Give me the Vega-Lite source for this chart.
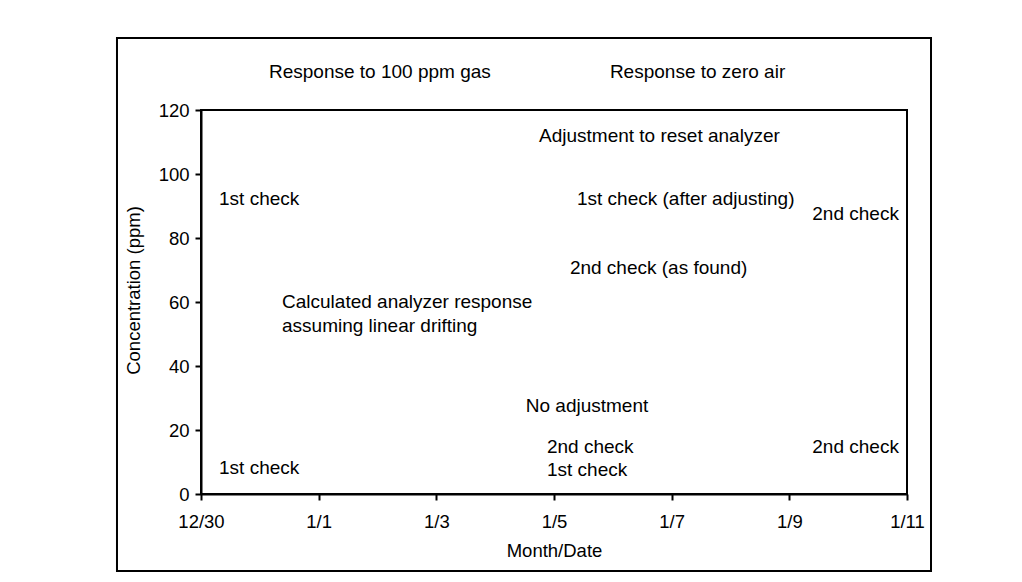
{
  "$schema": "https://vega.github.io/schema/vega-lite/v6.json",
  "width": 706,
  "height": 384,
  "autosize": {"type": "none"},
  "padding": {"left": 201, "top": 110, "right": 115, "bottom": 88},
  "background": "white",
  "config": {
    "font": "Liberation Sans",
    "view": {"stroke": "black", "strokeWidth": 2},
    "axis": {
      "domainColor": "black", "domainWidth": 2, "tickColor": "black", "tickWidth": 2, "tickSize": 6,
      "labelFont": "Liberation Sans", "labelFontSize": 18.5, "labelColor": "black",
      "titleFont": "Liberation Sans", "titleFontSize": 18.5, "titleFontWeight": "normal", "titleColor": "black",
      "grid": false
    }
  },
  "datasets": {
    "notes": [
      {"day": 1.156, "ppm": 132.0, "label": "Response to 100 ppm gas"},
      {"day": 6.95, "ppm": 132.0, "label": "Response to zero air"},
      {"day": 5.745, "ppm": 112.0, "label": "Adjustment to reset analyzer"},
      {"day": 0.306, "ppm": 92.3, "label": "1st check"},
      {"day": 6.39, "ppm": 92.3, "label": "1st check (after adjusting)"},
      {"day": 10.39, "ppm": 87.6, "label": "2nd check"},
      {"day": 6.27, "ppm": 70.7, "label": "2nd check (as found)"},
      {"day": 1.377, "ppm": 60.1, "label": "Calculated analyzer response"},
      {"day": 1.377, "ppm": 52.6, "label": "assuming linear drifting"},
      {"day": 5.52, "ppm": 27.6, "label": "No adjustment"},
      {"day": 5.88, "ppm": 14.8, "label": "2nd check"},
      {"day": 5.88, "ppm": 7.6, "label": "1st check"},
      {"day": 10.39, "ppm": 14.8, "label": "2nd check"},
      {"day": 0.306, "ppm": 8.2, "label": "1st check"}
    ],
    "frame": [
      {"x1": -1.428, "x2": 12.408, "y1": -24.06, "y2": 142.5}
    ]
  },
  "layer": [
    {
      "data": {"name": "frame"},
      "mark": {"type": "rect", "fill": null, "stroke": "black", "strokeWidth": 2, "clip": false},
      "encoding": {
        "x": {"field": "x1", "type": "quantitative", "scale": {"domain": [0, 12]}},
        "x2": {"field": "x2"},
        "y": {"field": "y1", "type": "quantitative", "scale": {"domain": [0, 120]}},
        "y2": {"field": "y2"}
      }
    },
    {
      "data": {"name": "notes"},
      "mark": {"type": "text", "align": "left", "baseline": "middle", "fontSize": 19, "font": "Liberation Sans", "color": "black"},
      "encoding": {
        "x": {
          "field": "day", "type": "quantitative",
          "scale": {"domain": [0, 12], "nice": false, "zero": false},
          "axis": {
            "title": "Month/Date", "values": [0, 2, 4, 6, 8, 10, 12],
            "labelExpr": "['12/30','1/1','1/3','1/5','1/7','1/9','1/11'][datum.value/2]",
            "labelFlush": false, "labelPadding": 12, "titlePadding": 11
          }
        },
        "y": {
          "field": "ppm", "type": "quantitative",
          "scale": {"domain": [0, 120], "nice": false},
          "axis": {"title": "Concentration (ppm)", "values": [0, 20, 40, 60, 80, 100, 120], "labelPadding": 6, "titlePadding": 15, "titleY": 180}
        },
        "text": {"field": "label"}
      }
    }
  ]
}
